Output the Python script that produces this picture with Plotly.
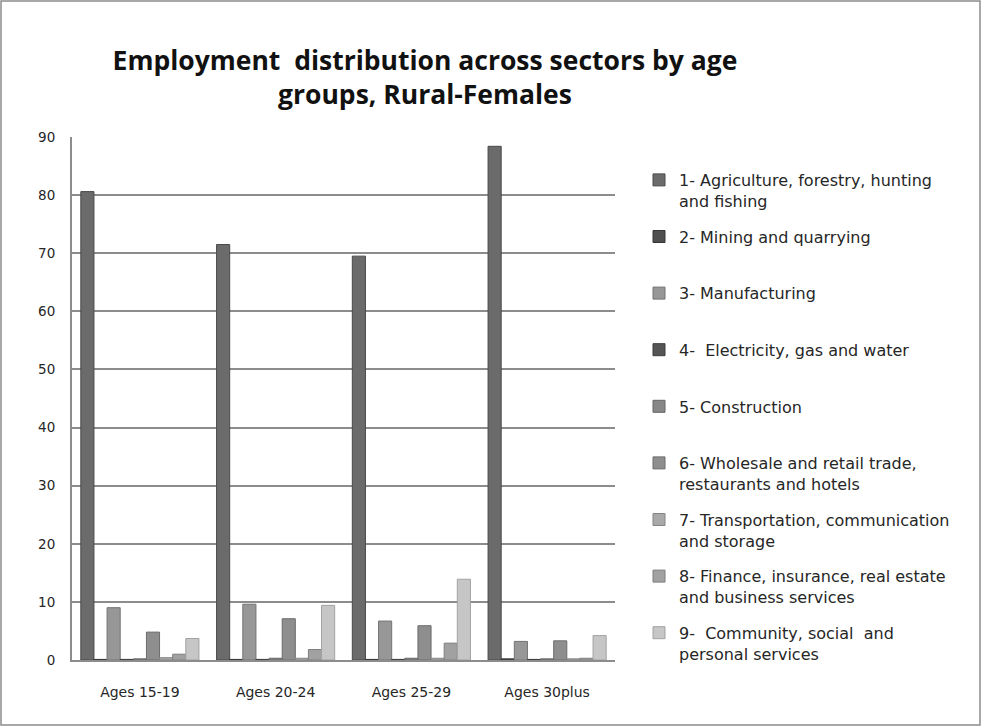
import plotly.graph_objects as go

# Age groups (categories)
age_groups = ["Ages 15-19", "Ages 20-24", "Ages 25-29", "Ages 30plus"]

# Sector names (legend labels) — padded to two lines so entries line up evenly
sectors = [
    "1- Agriculture, forestry, hunting<br>and fishing",
    "2- Mining and quarrying<br> ",
    "3- Manufacturing<br> ",
    "4-  Electricity, gas and water<br> ",
    "5- Construction<br> ",
    "6- Wholesale and retail trade,<br>restaurants and hotels",
    "7- Transportation, communication<br>and storage",
    "8- Finance, insurance, real estate<br>and business services",
    "9-  Community, social  and<br>personal services",
]

# Share of employment (%) per sector, one list per sector across age groups
agriculture = [80.6, 71.5, 69.5, 88.4]
mining = [0.1, 0.1, 0.1, 0.2]
manufacturing = [9.0, 9.6, 6.7, 3.2]
electricity = [0.1, 0.1, 0.1, 0.1]
construction = [0.2, 0.3, 0.3, 0.2]
wholesale = [4.8, 7.1, 5.9, 3.3]
transport = [0.4, 0.3, 0.3, 0.2]
finance = [1.0, 1.8, 2.9, 0.3]
community = [3.7, 9.4, 13.9, 4.2]

series = [agriculture, mining, manufacturing, electricity, construction,
          wholesale, transport, finance, community]
colors = ["#6b6b6b", "#4f4f4f", "#979797", "#555555", "#878787",
          "#8e8e8e", "#a9a9a9", "#a1a1a1", "#c6c6c6"]
edge_colors = ["#4a4a4a", "#363636", "#727272", "#3c3c3c", "#666666",
               "#6c6c6c", "#858585", "#7e7e7e", "#a2a2a2"]

TITLE_FONT = "Open Sans"
TEXT_FONT = "DejaVu Sans"

fig = go.Figure()
for i, (name, vals) in enumerate(zip(sectors, series)):
    fig.add_trace(go.Bar(
        x=age_groups, y=vals, name=name,
        legendgroup=f"g{i}",
        marker=dict(color=colors[i], line=dict(color=edge_colors[i], width=1)),
    ))

W, H = 982, 727
ml, mr, mt, mb = 72, 367, 137, 67
pw, ph = W - ml - mr, H - mt - mb

fig.update_layout(
    width=W, height=H,
    margin=dict(l=ml, r=mr, t=mt, b=mb),
    paper_bgcolor="white", plot_bgcolor="white",
    font=dict(family=TEXT_FONT, size=14, color="#262626"),
    barmode="group", bargap=0.13, bargroupgap=0,
    title=dict(
        text="<b>Employment  distribution across sectors by age<br>groups, Rural-Females</b>",
        x=425 / W, xref="container", xanchor="center",
        y=1 - 70 / H, yref="container", yanchor="top",
        font=dict(family=TITLE_FONT, size=26.5, color="#111111"),
    ),
    legend=dict(
        x=(639 - ml) / pw, xanchor="left",
        y=(mt + ph - 163) / ph, yanchor="top",
        valign="top", tracegroupgap=12,
        font=dict(family=TEXT_FONT, size=16, color="#262626"),
        bgcolor="rgba(0,0,0,0)",
    ),
    xaxis=dict(
        showgrid=False, showline=True, linecolor="#8c8c8c", linewidth=2,
        ticks="", ticklabelstandoff=18,
        tickfont=dict(family=TEXT_FONT, size=14, color="#262626"),
    ),
    yaxis=dict(
        range=[0, 90], dtick=10, showgrid=True, gridcolor="#8c8c8c", gridwidth=1.5,
        showline=True, linecolor="#8c8c8c", linewidth=2, zeroline=False,
        ticks="", ticklabelstandoff=12,
        tickfont=dict(family=TEXT_FONT, size=13.5, color="#262626"),
    ),
    shapes=[
        # outer chart frame
        dict(type="rect", xref="paper", yref="paper",
             x0=(1 - ml) / pw, x1=(W - 2 - ml) / pw,
             y0=(mt + ph - (H - 2)) / ph, y1=(mt + ph - 1) / ph,
             line=dict(color="#8c8c8c", width=1.5), fillcolor="rgba(0,0,0,0)",
             layer="below"),
    ],
)

fig.write_html("out.html")
